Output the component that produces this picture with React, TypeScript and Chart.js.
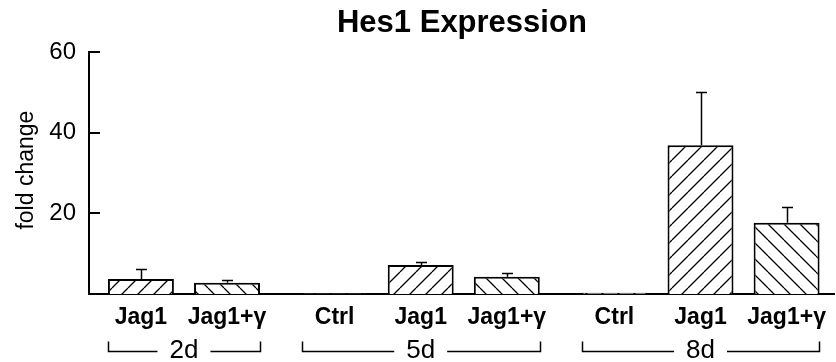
import React, { useEffect, useRef } from 'react';
import { Chart, registerables } from 'chart.js';

Chart.register(...registerables);

// ---- data ----
const chartTitle = 'Hes1 Expression';
const yAxisTitle = 'fold change';
const groupLabels = ['2d', '5d', '8d'];
const categories = ['Jag1', 'Jag1+γ', 'Ctrl', 'Jag1', 'Jag1+γ', 'Ctrl', 'Jag1', 'Jag1+γ'];
const groupOf = [0, 0, 1, 1, 1, 2, 2, 2];
const means = [3.7, 2.8, 0.1, 7.2, 4.3, 0.3, 36.9, 17.7];
const errors = [2.5, 0.7, 0, 0.7, 0.8, 0, 13.3, 3.8];
const yTickValues = [0, 20, 40, 60];

// ---- layout helpers (derived from structure) ----
const GROUP_GAP = 0.25;
const xPos = categories.map((_, i) => i + groupOf[i] * GROUP_GAP);
const FONT = "'Liberation Sans', Arial, Helvetica, sans-serif";

function makeHatch(ctx: CanvasRenderingContext2D, forward: boolean) {
  const s = 16;
  const c = document.createElement('canvas');
  c.width = s;
  c.height = s;
  const g = c.getContext('2d')!;
  g.fillStyle = '#ffffff';
  g.fillRect(0, 0, s, s);
  g.strokeStyle = '#000000';
  g.lineWidth = 1.3;
  g.beginPath();
  for (const o of [-s, 0, s]) {
    if (forward) {
      g.moveTo(o, s);
      g.lineTo(o + s, 0);
    } else {
      g.moveTo(o, 0);
      g.lineTo(o + s, s);
    }
  }
  g.stroke();
  return ctx.createPattern(c, 'repeat');
}

const extras = {
  id: 'extras',
  afterDatasetsDraw(chart: any) {
    const { ctx, scales } = chart;
    const x = scales.x;
    const y = scales.y;
    ctx.save();
    ctx.strokeStyle = '#000';
    ctx.fillStyle = '#000';
    // error bars (upper only)
    ctx.lineWidth = 1.5;
    means.forEach((m, i) => {
      if (!errors[i]) return;
      const px = Math.round(x.getPixelForValue(xPos[i])) + 0.5;
      const top = y.getPixelForValue(m);
      const e = Math.round(y.getPixelForValue(m + errors[i])) + 0.5;
      ctx.beginPath();
      ctx.moveTo(px, top);
      ctx.lineTo(px, e);
      ctx.moveTo(px - 5.5, e);
      ctx.lineTo(px + 5.5, e);
      ctx.stroke();
    });
    // inward y ticks
    ctx.lineWidth = 2;
    yTickValues.forEach((v) => {
      if (v === 0) return;
      const py = Math.round(y.getPixelForValue(v));
      ctx.beginPath();
      ctx.moveTo(x.left, py);
      ctx.lineTo(x.left + 11, py);
      ctx.stroke();
    });
    // y axis title
    ctx.save();
    ctx.font = `23px ${FONT}`;
    ctx.textAlign = 'center';
    ctx.textBaseline = 'alphabetic';
    ctx.translate(33, (y.top + y.bottom) / 2 - 3);
    ctx.rotate(-Math.PI / 2);
    ctx.fillText(yAxisTitle, 0, 0);
    ctx.restore();
    // group brackets
    const lineY = Math.round(y.bottom + 57) + 0.5;
    ctx.lineWidth = 1.5;
    ctx.font = `26px ${FONT}`;
    ctx.textAlign = 'center';
    ctx.textBaseline = 'middle';
    groupLabels.forEach((label, g) => {
      const idx = groupOf.map((v, i) => (v === g ? i : -1)).filter((i) => i >= 0);
      const x1 = Math.round(x.getPixelForValue(xPos[idx[0]] - 0.38)) + 0.5;
      const x2 = Math.round(x.getPixelForValue(xPos[idx[idx.length - 1]] + 0.38)) + 0.5;
      const cx = (x.getPixelForValue(xPos[idx[0]]) + x.getPixelForValue(xPos[idx[idx.length - 1]])) / 2;
      const half = ctx.measureText(label).width / 2 + 12;
      ctx.beginPath();
      ctx.moveTo(x1, lineY - 10);
      ctx.lineTo(x1, lineY);
      ctx.lineTo(cx - half, lineY);
      ctx.moveTo(cx + half, lineY);
      ctx.lineTo(x2, lineY);
      ctx.lineTo(x2, lineY - 10);
      ctx.stroke();
      ctx.fillText(label, cx, lineY - 1);
    });
    ctx.restore();
  },
};

export default function App() {
  const ref = useRef<HTMLCanvasElement | null>(null);
  useEffect(() => {
    const canvas = ref.current!;
    const ctx = canvas.getContext('2d')!;
    const fwd = makeHatch(ctx, true);
    const back = makeHatch(ctx, false);
    const fills = categories.map((c) => (c === 'Jag1+γ' ? back : fwd));
    const chart = new Chart(canvas, {
      type: 'bar',
      data: {
        datasets: [
          {
            data: means.map((m, i) => ({ x: xPos[i], y: m })),
            backgroundColor: fills as any,
            borderColor: '#000',
            borderWidth: 2,
            borderSkipped: 'bottom',
            barPercentage: 0.766,
            categoryPercentage: 1,
          },
        ],
      },
      options: {
        animation: false,
        responsive: true,
        maintainAspectRatio: false,
        layout: { padding: 0 },
        plugins: {
          legend: { display: false },
          tooltip: { enabled: false },
          title: {
            display: true,
            text: chartTitle,
            fullSize: false,
            color: '#000',
            font: { family: FONT, size: 31, weight: 'bold' },
            padding: { top: 5, bottom: 10 },
          },
        },
        scales: {
          x: {
            type: 'linear',
            min: -0.603,
            max: 8.06,
            offset: false,
            grid: { display: false, drawTicks: false, offset: false },
            border: { display: true, color: '#000', width: 2 },
            afterBuildTicks: (s: any) => {
              s.ticks = xPos.map((v) => ({ value: v }));
            },
            afterFit: (s: any) => {
              s.height = 68;
            },
            ticks: {
              autoSkip: false,
              maxRotation: 0,
              padding: 10,
              color: '#000',
              font: { family: FONT, size: 23, weight: 'bold' },
              callback: (_v: any, i: number) => categories[i],
            },
          },
          y: {
            type: 'linear',
            min: 0,
            max: 60,
            grid: { display: false, drawTicks: false },
            border: { display: true, color: '#000', width: 2 },
            afterBuildTicks: (s: any) => {
              s.ticks = yTickValues.map((v) => ({ value: v }));
            },
            afterFit: (s: any) => {
              s.width = 89;
            },
            ticks: {
              padding: 13,
              color: '#000',
              font: { family: FONT, size: 24 },
              callback: (v: any) => (v === 0 ? '' : String(v)),
            },
          },
        },
      },
      plugins: [extras],
    });
    return () => chart.destroy();
  }, []);
  return (
    <div style={{ position: 'absolute', left: 0, top: 0, width: 836, height: 362, background: '#fff' }}>
      <canvas ref={ref} />
    </div>
  );
}
